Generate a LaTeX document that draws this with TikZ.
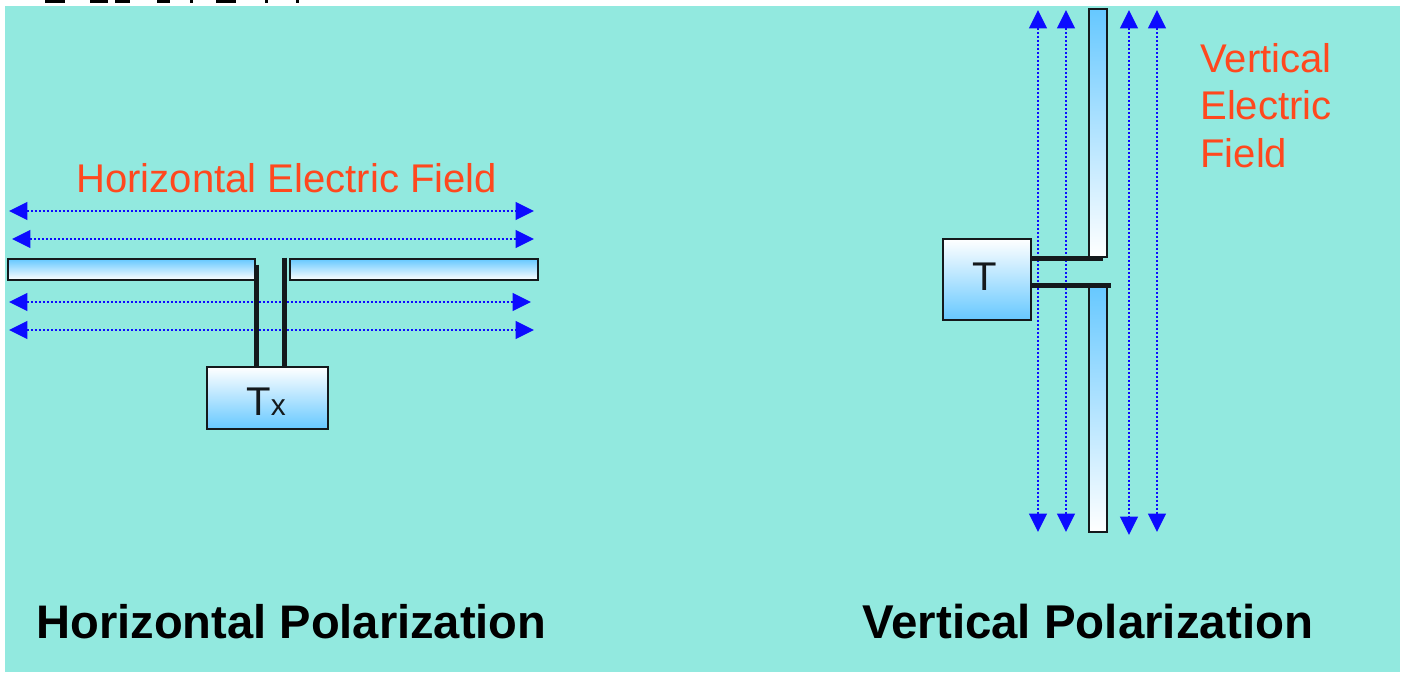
\documentclass[tikz,border=0pt]{standalone}
\usepackage{fontspec}
\setmainfont{Liberation Sans}
\usetikzlibrary{arrows.meta}
\definecolor{colBg}{RGB}{146,233,223}
\definecolor{colSky}{RGB}{102,200,255}
\definecolor{colField}{RGB}{12,12,255}
\definecolor{colLabel}{RGB}{255,72,30}
\definecolor{colEdge}{RGB}{20,25,28}

\tikzset{
    field/.style={colField, line width=1.4pt, dash pattern=on 1.3pt off 0.9762pt,
        {Triangle[length=10.5pt, width=10pt]}-{Triangle[length=10.5pt, width=10pt]}},
    feed/.style={colEdge, line width=2.8pt},
    elem/.style={draw=colEdge, line width=1.6pt, inner sep=0pt, top color=colSky, bottom color=white},
    txbox/.style={draw=colEdge, line width=1.6pt, inner sep=0pt, top color=white, bottom color=colSky},
    fieldlabel/.style={colLabel, anchor=base west, inner sep=0pt, font=\fontsize{22.8}{27}\selectfont},
    title/.style={black, anchor=base west, inner sep=0pt, font=\fontsize{26.8}{32}\selectfont\bfseries},
}

\begin{document}
\begin{tikzpicture}[x=0.02cm, y=-0.02cm]

\useasboundingbox (0,0) rectangle (1407,673);

% Fond
\fill[colBg] (5,6) rectangle (1400,672);

% Ligne coupee en haut
\foreach \xa/\xb in {45/65, 90/108, 115/130, 157/170, 190/193, 216/236, 265/268, 296/299} {
    \fill[black] (\xa,0) rectangle (\xb,2.5);
}

% Horizontal: champ
\foreach \y/\xa/\xb in {211/9/534, 239/12/534, 302/9/531, 330/9/534} {
    \coordinate (hl\y) at (\xa,\y);
    \coordinate (hr\y) at (\xb,\y);
    \draw[field] (hl\y) -- (hr\y);
}

% Horizontal: dipole
\node[elem, minimum width=247*0.569pt, minimum height=21*0.569pt] (barL) at (131.5,269.5) {};
\node[elem, minimum width=248*0.569pt, minimum height=21*0.569pt] (barR) at (414,269.5) {};
\node[txbox, minimum width=121*0.569pt, minimum height=62*0.569pt] (boxTx) at (267.5,398) {};
\node[inner sep=0pt, anchor=base west, colEdge, font=\fontsize{22.8}{27}\selectfont] (txtTx) at (246,415) {T\fontsize{17}{20}\selectfont x};
\draw[feed] ([yshift=-4pt]barL.north east) -- (barL.north east |- boxTx.north);
\draw[feed] ([xshift=-2.6pt]barR.north west) -- ([xshift=-2.6pt]barR.north west |- boxTx.north);

% Vertical: champ
\foreach \x/\yb in {1038/532, 1066/532, 1129/535, 1157/532} {
    \coordinate (vt\x) at (\x,10);
    \coordinate (vb\x) at (\x,\yb);
    \draw[field] (vt\x) -- (vb\x);
}

% Vertical: dipole
\node[elem, minimum width=18*0.569pt, minimum height=248*0.569pt] (barU) at (1098,133) {};
\node[elem, minimum width=18*0.569pt, minimum height=247*0.569pt] (barD) at (1098,408.5) {};
\node[txbox, minimum width=88*0.569pt, minimum height=81*0.569pt] (boxT) at (987,279.5) {};
\node[inner sep=0pt, anchor=base west, colEdge, font=\fontsize{22.8}{27}\selectfont] (txtT) at (972,290) {T};
\draw[feed] (boxT.east |- barU.south) -- ([xshift=-3pt]barU.south east);
\draw[feed] ([yshift=-1.2pt]boxT.east |- barD.north) -- ([xshift=1.4pt, yshift=-1.2pt]barD.north east);

% Textes
\node[fieldlabel] (lblH) at (76,192) {Horizontal Electric Field};
\node[fieldlabel] (lblV1) at (1200,72) {Vertical};
\node[fieldlabel] (lblV2) at (1200,119) {Electric};
\node[fieldlabel] (lblV3) at (1200,167) {Field};
\node[title] (titleH) at (36,638) {Horizontal Polarization};
\node[title, font=\fontsize{27}{32}\selectfont\bfseries] (titleV) at (862,638) {Vertical Polarization};

\end{tikzpicture}
\end{document}
